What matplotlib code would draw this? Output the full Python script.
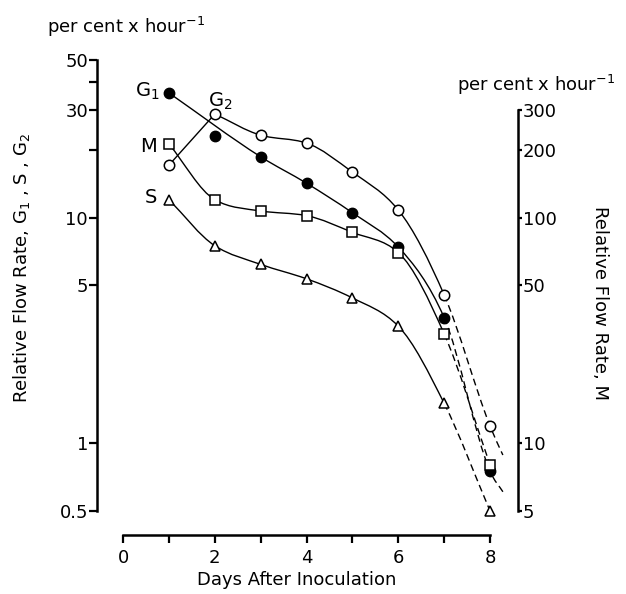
import matplotlib
matplotlib.use('Agg')
import matplotlib.pyplot as plt
import numpy as np
from matplotlib.path import Path
from matplotlib.patches import PathPatch
from matplotlib.ticker import FixedLocator, NullFormatter, NullLocator

plt.rcParams['font.family'] = ['DejaVu Sans']
plt.rcParams['mathtext.default'] = 'regular'

days = [1, 2, 3, 4, 5, 6, 7, 8]
g1 = [35.7, 23.0, 18.6, 14.2, 10.5, 7.4, 3.6, 0.75]
g2 = [17.1, 28.8, 23.2, 21.4, 15.9, 10.8, 4.54, 1.19]
s = [12.0, 7.5, 6.2, 5.35, 4.4, 3.3, 1.5, 0.5]
m = [212, 120, 107, 102, 86, 70, 30.5, 8.0]   # right axis

# ends of the dashed extrapolations beyond day 8
g1_end = (8.3, 0.60)
g2_end = (8.28, 0.885)

left_ticks = [0.5, 1, 5, 10, 30, 50]
left_minor = [20, 40]
right_ticks = [5, 10, 50, 100, 200, 300]

W, H = 626, 594


def smooth_curve(xs, ys, ax, n_solid, lw=1.0):
    # cubic Bezier through the points in (x, log y); first n_solid segments
    # solid, the rest dashed
    px = np.array(xs, float)
    py = np.log10(np.array(ys, float))
    n = len(px)
    h = np.diff(px)
    d = np.diff(py) / h
    t = np.zeros(n)
    t[0], t[-1] = d[0], d[-1]
    for i in range(1, n - 1):
        ar = (d[i - 1] + d[i]) / 2
        hm = 2 / (1 / d[i - 1] + 1 / d[i]) if d[i - 1] * d[i] > 0 else 0.0
        t[i] = (ar + hm) / 2
    for lo, hi, ls in ((0, n_solid, '-'), (n_solid, n - 1, (0, (5, 3)))):
        if hi <= lo:
            continue
        verts = [(px[lo], py[lo])]
        codes = [Path.MOVETO]
        for i in range(lo, hi):
            c1 = (px[i] + h[i] / 3, py[i] + t[i] * h[i] / 3)
            c2 = (px[i + 1] - h[i] / 3, py[i + 1] - t[i + 1] * h[i] / 3)
            verts += [c1, c2, (px[i + 1], py[i + 1])]
            codes += [Path.CURVE4] * 3
        verts = [(x, 10 ** y) for x, y in verts]
        ax.add_patch(PathPatch(Path(verts, codes), fill=False, color='black',
                               lw=lw, ls=ls))


fig = plt.figure(figsize=(W / 100, H / 100), dpi=100)
ax = fig.add_axes([97 / W, 1 - 535 / H, (518 - 97) / W, (535 - 60) / H])
ax.set_yscale('log')
ax.set_xlim(-0.57, 8.61)
ax.set_ylim(0.391, 50)

ax2 = ax.twinx()
ax2.set_yscale('log')
ax2.set_ylim(3.91, 500)

lw = 1.0
# G1: straight fit through the early points, then bending down
smooth_curve([days[0]] + days[2:] + [g1_end[0]], [g1[0]] + g1[2:] + [g1_end[1]], ax, 5, lw)
# G2
ax.plot(days[:2], g2[:2], color='black', lw=lw)
smooth_curve(days[1:] + [g2_end[0]], g2[1:] + [g2_end[1]], ax, 5, lw)
# S
smooth_curve(days, s, ax, 6, lw)
# M on right axis
smooth_curve(days, m, ax2, 6, lw)

ax.plot(days, g1, 'o', ms=7.5, mfc='black', mec='black', zorder=5)
ax.plot(days, g2, 'o', ms=7.5, mfc='white', mec='black', mew=1.1, zorder=5)
ax.plot(days, s, '^', ms=7, mfc='white', mec='black', mew=1.1, zorder=5)
ax2.plot(days, m, 's', ms=7, mfc='white', mec='black', mew=1.1, zorder=5)

for a in (ax, ax2):
    a.spines['top'].set_visible(False)
    for sp in a.spines.values():
        sp.set_linewidth(1.8)
ax.spines['right'].set_visible(False)
ax2.spines['left'].set_visible(False)
ax2.spines['bottom'].set_visible(False)
ax.spines['left'].set_bounds(0.5, 50)
ax.spines['bottom'].set_bounds(0, 8)
ax2.spines['right'].set_bounds(5, 300)

ax.yaxis.set_major_locator(FixedLocator(left_ticks))
ax.set_yticklabels([f'{t:g}' for t in left_ticks])
ax.yaxis.set_minor_locator(FixedLocator(left_minor))
ax.yaxis.set_minor_formatter(NullFormatter())
ax2.yaxis.set_major_locator(FixedLocator(right_ticks))
ax2.set_yticklabels([f'{t:g}' for t in right_ticks])
ax2.yaxis.set_minor_locator(NullLocator())
ax.set_xticks([0, 2, 4, 6, 8])
ax.set_xticks([1, 3, 5, 7], minor=True)

ax.tick_params(axis='y', which='both', direction='out', length=6, width=1.6, pad=0.5, labelsize=13)
ax2.tick_params(axis='y', which='both', direction='out', length=3, width=1.6, pad=0.5, labelsize=13)
ax.tick_params(axis='x', which='both', direction='out', length=6, width=1.6, pad=4, labelsize=13)

fs = 13
fig.text(47 / W, 1 - 27 / H, 'per cent x hour$^{-1}$', fontsize=fs, ha='left', va='center')
fig.text(457 / W, 1 - 85 / H, 'per cent x hour$^{-1}$', fontsize=fs, ha='left', va='center')
fig.text(297 / W, 1 - 580 / H, 'Days After Inoculation', fontsize=fs, ha='center', va='center')
fig.text(22 / W, 1 - 268 / H, 'Relative Flow Rate, G$_1$ , S , G$_2$', fontsize=fs,
         rotation=90, ha='center', va='center')
fig.text(600 / W, 1 - 303 / H, 'Relative Flow Rate, M', fontsize=fs,
         rotation=270, ha='center', va='center')

fig.text(147 / W, 1 - 91 / H, 'G$_1$', fontsize=14, ha='center', va='center')
fig.text(220 / W, 1 - 101 / H, 'G$_2$', fontsize=14, ha='center', va='center')
fig.text(148 / W, 1 - 146 / H, 'M', fontsize=14, ha='center', va='center')
fig.text(151 / W, 1 - 198 / H, 'S', fontsize=14, ha='center', va='center')

fig.savefig('out.png', dpi=100)
